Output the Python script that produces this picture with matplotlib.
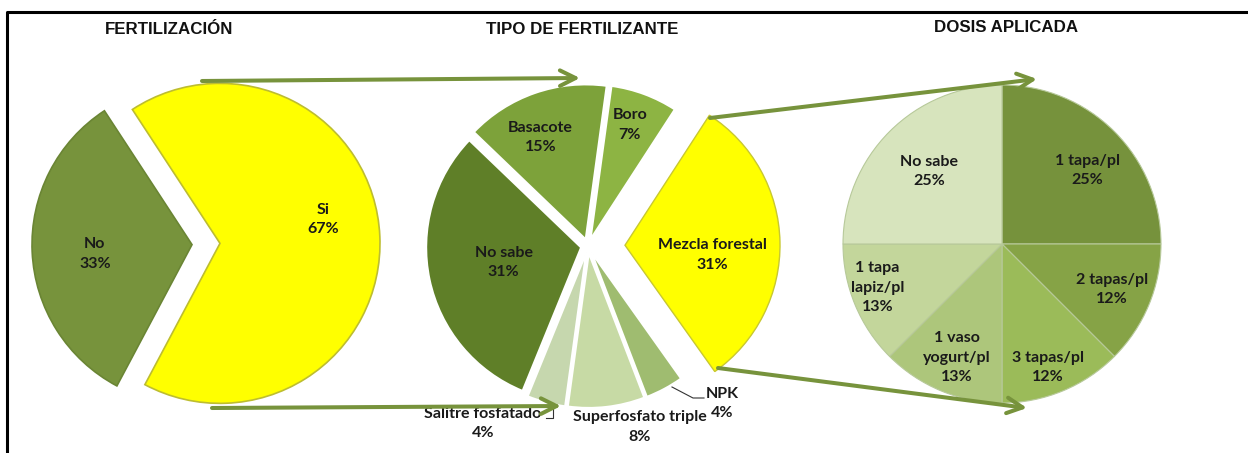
import numpy as np
import matplotlib.pyplot as plt
from matplotlib.patches import FancyArrowPatch

# Fertilización
fert_labels = ["Si", "No"]
fert_values = [67, 33]

# Tipo de fertilizante (orden antihorario desde Boro)
tipo_labels = ["Boro", "Basacote", "No sabe", "Salitre fosfatado",
               "Superfosfato triple", "NPK", "Mezcla forestal"]
tipo_values = [7, 15, 31, 4, 8, 4, 31]

# Dosis aplicada (orden horario desde arriba)
dosis_labels = ["1 tapa/pl", "2 tapas/pl", "3 tapas/pl", "1 vaso\nyogurt/pl",
                "1 tapa\nlapiz/pl", "No sabe"]
dosis_values = [25, 12.5, 12.5, 12.5, 12.5, 25]
dosis_pct = ["25%", "12%", "12%", "13%", "13%", "25%"]

W, H = 1248, 453
verde = "#77933C"
lab_font = dict(family="Lato", fontweight="bold", fontsize=11.5, color="#1a1a1a",
                ha="center", va="center", linespacing=1.5)


def Y(y):
    # coordenadas de imagen -> coordenadas de datos
    return H - y


fig = plt.figure(figsize=(W / 100, H / 100), dpi=100)
ax = fig.add_axes([0, 0, 1, 1])


def etiquetas(wedges, textos, pos, R, cx, cy):
    for w, txt, (frac, ang) in zip(wedges, textos, pos):
        a = ang if ang is not None else (w.theta1 + w.theta2) / 2
        if frac > 1:
            x0, y0 = cx, cy
        else:
            x0, y0 = w.center
        ax.text(x0 + frac * R * np.cos(np.radians(a)),
                y0 + frac * R * np.sin(np.radians(a)), txt, zorder=5, **lab_font)


# --- pie 1
R1, c1 = 160, (206, Y(244))
w1, _ = ax.pie(fert_values, colors=["#FFFF00", verde], startangle=-118,
               explode=[14, 14], radius=R1, center=c1,
               wedgeprops=dict(edgecolor="#BDBD30", linewidth=1.2))
w1[1].set_edgecolor("#6A8534")
etiquetas(w1, [f"{l}\n{v}%" for l, v in zip(fert_labels, fert_values)],
          [(0.66, 13), (0.61, 185.6)], R1, *c1)

# --- pie 2
R2, c2 = 155, (588, Y(246))
tipo_cols = ["#8DB443", "#7DA23A", "#5F7F28", "#C6D7AE", "#C7DAA5", "#9FBC70", "#FFFF00"]
w2, _ = ax.pie(tipo_values, colors=tipo_cols, startangle=57,
               explode=[7, 7, 7, 7, 7, 7, 37], radius=R2, center=c2,
               wedgeprops=dict(edgecolor="white", linewidth=1.5))
w2[-1].set_edgecolor("#C8C830")
w2[-1].set_linewidth(1.0)
etiquetas(w2, [f"{l}\n{v}%" for l, v in zip(tipo_labels, tipo_values)],
          [(0.78, 71), (0.72, 114), (0.51, 191), (1.33, 239.3),
           (1.215, 286), (1.334, 310.4), (0.57, -6.5)], R2, *c2)

# líneas guía
ax.plot([672, 693, 704], [Y(387), Y(398), Y(398)], color="#333333", lw=0.8, zorder=4)
ax.plot([546, 553, 553], [Y(418), Y(418), Y(409)], color="#333333", lw=0.8, zorder=4)

# --- pie 3
R3, c3 = 159, (1002, Y(244))
dosis_cols = ["#76923C", "#86A346", "#9BBB59", "#ADC67B", "#C3D69B", "#D7E4BD"]
w3, _ = ax.pie(dosis_values, colors=dosis_cols, startangle=90, counterclock=False,
               radius=R3, center=c3,
               wedgeprops=dict(edgecolor="#B7C99A", linewidth=0.8))
etiquetas(w3, [f"{l}\n{p}" for l, p in zip(dosis_labels, dosis_pct)],
          [(0.71, 40.7), (0.75, None), (0.83, -69.5), (0.77, -111.7),
           (0.83, -160.6), (0.645, None)], R3, *c3)

# flechas
for (x0, y0), (x1, y1) in [((202, 81), (580, 78)), ((212, 408), (561, 406)),
                           ((710, 118), (1037, 79)), ((718, 368), (1027, 408))]:
    ax.add_patch(FancyArrowPatch((x0, Y(y0)), (x1, Y(y1)), arrowstyle="->",
                                 mutation_scale=28, lw=2.9, color=verde,
                                 shrinkA=0, shrinkB=0, zorder=6))

# títulos
for x, y, t in [(169, 30, "FERTILIZACIÓN"), (582, 30, "TIPO DE FERTILIZANTE"),
                (1006, 28, "DOSIS APLICADA")]:
    ax.text(x, Y(y), t, family="Liberation Sans", fontweight="bold", fontsize=12.2,
            ha="center", va="center", color="#111111")

# marco
ax.plot([7, 7, W], [0, Y(12), Y(12)], color="black", lw=2.2, zorder=7)

ax.set_xlim(0, W)
ax.set_ylim(0, H)
ax.set_aspect("equal")
ax.axis("off")

fig.savefig("out.png", dpi=100)
